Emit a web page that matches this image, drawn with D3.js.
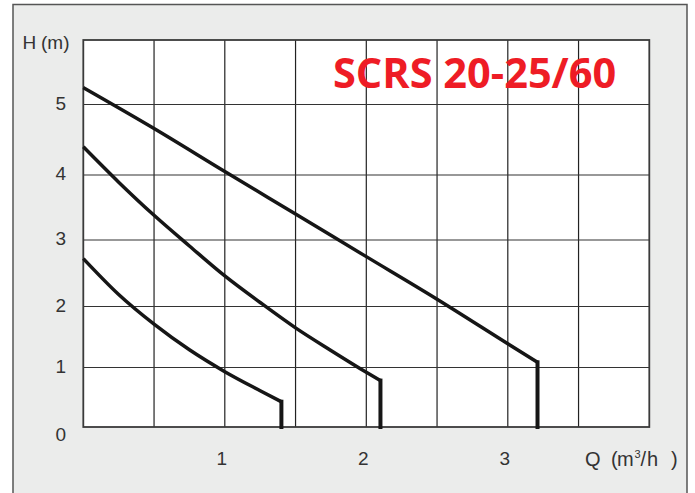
<!DOCTYPE html>
<html>
<head>
<meta charset="utf-8">
<script src="https://cdn.jsdelivr.net/npm/d3@7"></script>
<style>
  html, body { margin: 0; padding: 0; background: #ffffff; }
  svg { display: block; }
</style>
</head>
<body>
<svg id="chart" width="695" height="493"></svg>
<script>
// ---- data ----
const title = "SCRS 20-25/60";
const yTickLabels = [0, 1, 2, 3, 4, 5];
const xTickLabels = [1, 2, 3];
const xGridValues = [0.5, 1, 1.5, 2, 2.5, 3, 3.5];
const yGridValues = [1, 2, 3, 4, 5];

// speed 3 (top curve)
const q3 = [0, 0.5, 1, 1.5, 2, 2.5, 3, 3.21];
const h3 = [5.24, 4.66, 4.05, 3.40, 2.75, 2.11, 1.39, 1.085];
// speed 2 (middle curve)
const q2 = [0, 0.25, 0.5, 0.75, 1, 1.25, 1.5, 1.75, 2, 2.1];
const h2 = [4.40, 3.89, 3.38, 2.91, 2.46, 2.06, 1.65, 1.28, 0.92, 0.78];
// speed 1 (bottom curve)
const q1 = [0, 0.25, 0.5, 0.75, 1, 1.25, 1.4];
const h1 = [2.72, 2.18, 1.71, 1.29, 0.93, 0.61, 0.425];

const curves = [[q1, h1], [q2, h2], [q3, h3]];

// ---- layout ----
const svg = d3.select("#chart");
const plot = { left: 83.3, top: 40, right: 649.3, bottom: 427 };

const x = d3.scaleLinear().domain([0, 4]).range([plot.left, plot.right]);
// the printed grid is not evenly spaced vertically
const y = d3.scaleLinear()
  .domain([0, 1, 2, 3, 4, 5])
  .range([427, 367.5, 306.5, 240, 175, 104.5]);

// outer panel
svg.append("rect")
  .attr("x", 13).attr("y", 4.5).attr("width", 674).attr("height", 500)
  .attr("fill", "#ebeceb").attr("stroke", "#555").attr("stroke-width", 1.5);

// plot area
svg.append("rect")
  .attr("x", plot.left).attr("y", plot.top)
  .attr("width", plot.right - plot.left).attr("height", plot.bottom - plot.top)
  .attr("fill", "#ffffff");

// grid
svg.append("g").selectAll("line").data(xGridValues).join("line")
  .attr("x1", d => x(d)).attr("x2", d => x(d))
  .attr("y1", plot.top).attr("y2", plot.bottom)
  .attr("stroke", "#222").attr("stroke-width", 1.2);

svg.append("g").selectAll("line").data(yGridValues).join("line")
  .attr("x1", plot.left).attr("x2", plot.right)
  .attr("y1", d => y(d)).attr("y2", d => y(d))
  .attr("stroke", "#333").attr("stroke-width", 1.2);

// frame
svg.append("rect")
  .attr("x", plot.left).attr("y", plot.top)
  .attr("width", plot.right - plot.left).attr("height", plot.bottom - plot.top)
  .attr("fill", "none").attr("stroke", "#3a3a3a").attr("stroke-width", 1.8);

// curves
const lineGen = d3.line().x(d => x(d[0])).y(d => y(d[1])).curve(d3.curveMonotoneX);
const dropGen = d3.line().x(d => x(d[0])).y(d => y(d[1]));

curves.forEach(([q, h]) => {
  const pts = q.map((v, i) => [v, h[i]]);
  const last = pts[pts.length - 1];
  svg.append("path")
    .attr("d", lineGen(pts))
    .attr("fill", "none").attr("stroke", "#161616")
    .attr("stroke-width", 3.5).attr("stroke-linecap", "butt");
  svg.append("path")
    .attr("d", dropGen([[last[0], last[1]], [last[0], 0]]))
    .attr("fill", "none").attr("stroke", "#161616")
    .attr("stroke-width", 4).attr("stroke-linecap", "square");
});

// y tick labels
const labelFont = "'Liberation Sans', Arial, sans-serif";
svg.append("g").selectAll("text").data(yTickLabels).join("text")
  .attr("x", 66)
  .attr("y", d => d === 0 ? y(d) + 14 : y(d) + 5)
  .attr("text-anchor", "end")
  .attr("font-family", labelFont).attr("font-size", 19).attr("fill", "#333")
  .text(d => d);

// x tick labels
svg.append("g").selectAll("text").data(xTickLabels).join("text")
  .attr("x", d => x(d) - 3)
  .attr("y", 465)
  .attr("text-anchor", "middle")
  .attr("font-family", labelFont).attr("font-size", 19).attr("fill", "#333")
  .text(d => d);

// axis titles
const hTitle = svg.append("text")
  .attr("y", 49)
  .attr("font-family", labelFont).attr("font-size", 19).attr("fill", "#333");
hTitle.append("tspan").attr("x", 22.5).text("H");
hTitle.append("tspan").attr("x", 41).text("(m)");

const qTitle = svg.append("text")
  .attr("y", 466)
  .attr("font-family", labelFont).attr("font-size", 20).attr("fill", "#333");
qTitle.append("tspan").attr("x", 585).text("Q");
qTitle.append("tspan").attr("x", 611).text("(");
qTitle.append("tspan").attr("x", 617).text("m");
qTitle.append("tspan").attr("x", 634.5).attr("font-size", 11).attr("dy", -8).text("3");
qTitle.append("tspan").attr("x", 640.5).attr("dy", 8).text("/");
qTitle.append("tspan").attr("x", 647).text("h");
qTitle.append("tspan").attr("x", 671).text(")");

// title
svg.append("text")
  .attr("x", 333).attr("y", 88)
  .attr("font-family", "'Open Sans', 'Noto Sans', sans-serif")
  .attr("font-weight", 700).attr("font-size", 41.5)
  .attr("fill", "#ee1c25")
  .text(title);
</script>
</body>
</html>
